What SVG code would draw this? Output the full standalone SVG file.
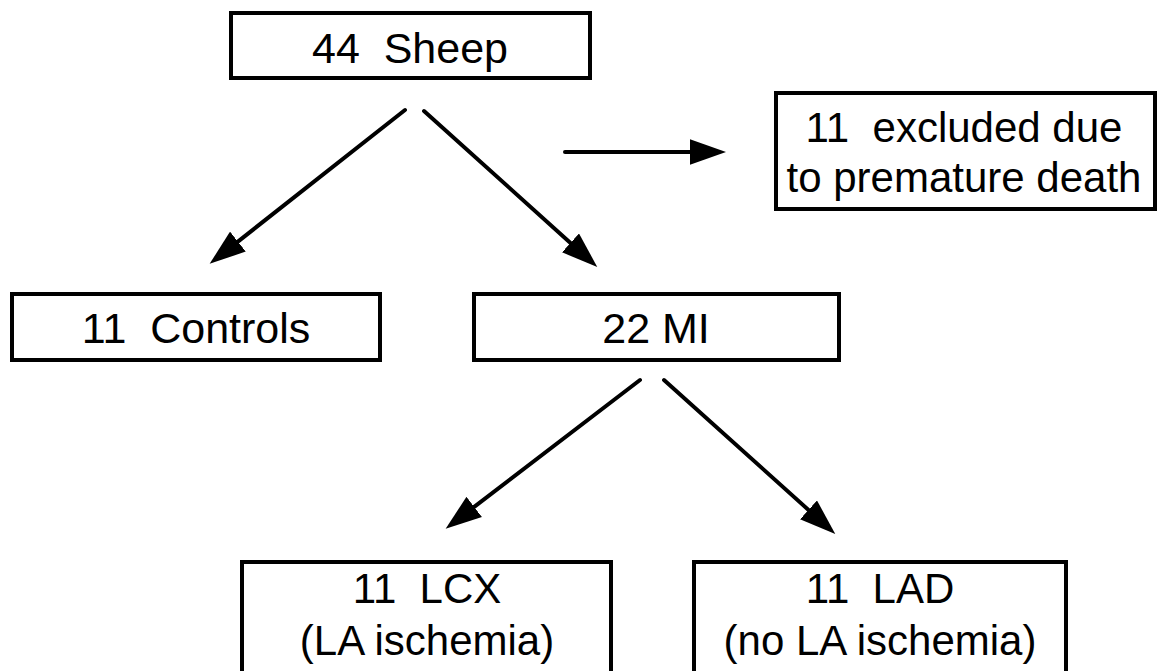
<svg xmlns="http://www.w3.org/2000/svg" width="1159" height="671" viewBox="0 0 1159 671" xml:space="preserve">
<style>
.box{fill:#fff;stroke:#000;stroke-width:4}
.t{font-family:"Liberation Sans",Arial,sans-serif;font-size:43px;fill:#000;text-anchor:middle;white-space:pre}
.t2{font-size:42px}
.c{stroke:#000;stroke-width:4;stroke-linecap:round;fill:none;marker-end:url(#ah)}
</style>
<defs>
<marker id="ah" markerUnits="userSpaceOnUse" markerWidth="36" markerHeight="26" refX="0" refY="12" orient="auto" viewBox="0 0 34 24">
<path d="M0,0 L34,12 L0,24 Z" fill="#000"/>
</marker>
</defs>
<rect width="1159" height="671" fill="#fff"/>
<g id="connectors">
<line class="c" x1="405" y1="110" x2="237.9" y2="241.6"/>
<line class="c" x1="424" y1="111" x2="570.5" y2="242.9"/>
<line class="c" x1="565" y1="152" x2="690" y2="152"/>
<line class="c" x1="640" y1="380" x2="474.2" y2="506.9"/>
<line class="c" x1="664" y1="380" x2="808.5" y2="509.9"/>
</g>
<g id="sheep">
<rect class="box" x="231" y="13" width="359" height="65"/>
<text class="t" x="410" y="63">44  Sheep</text>
</g>
<g id="excluded">
<rect class="box" x="776" y="93" width="379" height="116"/>
<text class="t t2" x="964" y="142">11  excluded due</text>
<text class="t t2" x="964" y="192">to premature death</text>
</g>
<g id="controls">
<rect class="box" x="12" y="294" width="368" height="66"/>
<text class="t" x="196" y="343">11  Controls</text>
</g>
<g id="mi">
<rect class="box" x="474" y="294" width="365" height="66"/>
<text class="t" x="656" y="343">22 MI</text>
</g>
<g id="lcx">
<rect class="box" x="242" y="562" width="369" height="130"/>
<text class="t t2" x="427" y="603">11  LCX</text>
<text class="t t2" x="427" y="655">(LA ischemia)</text>
</g>
<g id="lad">
<rect class="box" x="694" y="562" width="372" height="130"/>
<text class="t t2" x="880" y="603">11  LAD</text>
<text class="t t2" x="880" y="655">(no LA ischemia)</text>
</g>
</svg>
